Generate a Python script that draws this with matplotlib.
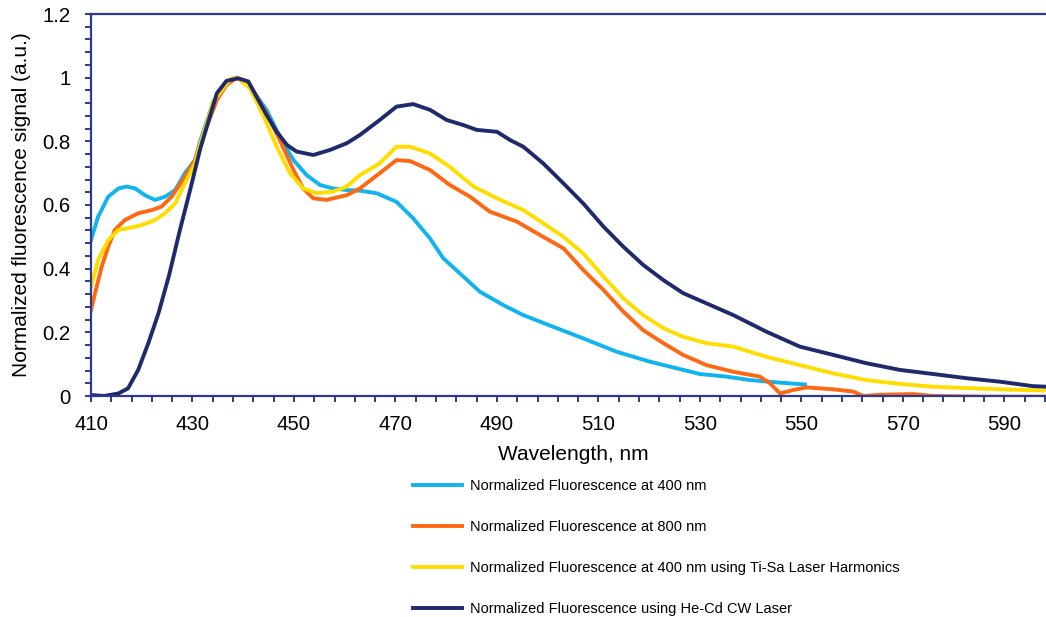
import matplotlib
matplotlib.use("Agg")
import matplotlib.pyplot as plt
from matplotlib.ticker import MultipleLocator, FixedLocator

plt.rcParams['font.family'] = ['Liberation Sans', 'DejaVu Sans']

# ---- data ----
wl_400 = [410, 411.4, 413.4, 415.4, 417.0, 418.7, 420.6, 422.6, 424.6, 426.6, 428.5, 430.5,
          431.5, 434.1, 436.7, 438.7, 441.3, 444.6, 447.2, 449.9, 452.5, 455.1, 457.7, 460.4,
          463.0, 466.3, 470.2, 473.5, 476.8, 479.4, 483.4, 486.6, 491.2, 495.2, 501.8, 507.0,
          513.6, 520.1, 526.7, 530.0, 535.2, 539.9, 545.0, 550.7]
f_400 = [0.49, 0.563, 0.626, 0.652, 0.658, 0.652, 0.631, 0.616, 0.626, 0.647, 0.70, 0.741,
         0.80, 0.925, 0.985, 1.0, 0.972, 0.899, 0.815, 0.741, 0.694, 0.663, 0.652, 0.647,
         0.645, 0.637, 0.61, 0.558, 0.495, 0.433, 0.375, 0.328, 0.286, 0.254, 0.213, 0.181,
         0.139, 0.108, 0.082, 0.069, 0.061, 0.05, 0.043, 0.036]

wl_800 = [410, 410.8, 412.1, 413.4, 414.7, 416.7, 419.3, 422.0, 423.9, 425.9, 428.5, 430.5,
          431.5, 434.8, 436.7, 438.7, 441.3, 444.6, 447.2, 449.9, 451.8, 453.8, 456.4, 460.4,
          463.0, 466.9, 470.2, 472.9, 476.8, 480.7, 484.7, 488.6, 493.9, 499.1, 503.1, 507.0,
          511.0, 514.9, 518.8, 522.8, 526.7, 531.3, 536.6, 541.8, 543.8, 545.8, 548.4, 551.0,
          556.3, 560.2, 562.2, 565.8, 572.0, 576.0, 585.0, 598.5]
f_800 = [0.27, 0.323, 0.406, 0.469, 0.522, 0.553, 0.574, 0.584, 0.595, 0.626, 0.689, 0.741,
         0.79, 0.93, 0.977, 1.0, 0.977, 0.888, 0.804, 0.71, 0.652, 0.621, 0.616, 0.631,
         0.652, 0.70, 0.741, 0.738, 0.71, 0.663, 0.626, 0.579, 0.548, 0.50, 0.464, 0.396,
         0.333, 0.265, 0.207, 0.166, 0.129, 0.097, 0.076, 0.061, 0.04, 0.008, 0.019, 0.027,
         0.021, 0.014, 0.0, 0.004, 0.006, 0.0, -0.002, -0.002]

wl_tisa = [410, 411.4, 413.4, 415.4, 417.3, 420.0, 422.6, 424.6, 426.6, 428.5, 430.5, 431.5,
           434.1, 436.7, 437.7, 439.0, 441.3, 443.9, 446.6, 449.2, 451.8, 454.5, 457.7, 460.4,
           463.0, 466.9, 470.2, 472.9, 476.8, 480.7, 485.4, 490.0, 495.2, 499.1, 503.1, 507.0,
           511.0, 514.9, 518.8, 522.8, 526.7, 531.3, 536.6, 543.1, 549.7, 556.3, 562.8, 569.4,
           576.0, 582.5, 589.1, 598.5]
f_tisa = [0.343, 0.427, 0.49, 0.522, 0.527, 0.537, 0.553, 0.574, 0.605, 0.668, 0.731, 0.79,
          0.925, 0.98, 0.998, 0.998, 0.967, 0.883, 0.783, 0.70, 0.652, 0.637, 0.642, 0.658,
          0.694, 0.731, 0.783, 0.783, 0.762, 0.72, 0.658, 0.621, 0.584, 0.543, 0.50, 0.448,
          0.375, 0.307, 0.254, 0.213, 0.186, 0.166, 0.155, 0.123, 0.097, 0.071, 0.05, 0.038,
          0.029, 0.025, 0.021, 0.017]

wl_hecd = [410, 412.6, 415.4, 417.3, 419.3, 421.3, 423.3, 425.4, 427.5, 429.5, 431.5, 432.8,
           434.8, 436.7, 439.0, 441.0, 442.6, 444.6, 446.6, 448.6, 450.5, 453.8, 457.1, 460.4,
           463.0, 466.9, 470.2, 473.5, 476.8, 480.1, 483.4, 486.0, 490.0, 492.6, 495.2, 499.1,
           503.1, 507.0, 511.0, 514.9, 518.8, 522.8, 526.7, 531.3, 536.6, 543.1, 549.7, 556.3,
           562.8, 569.4, 576.0, 582.5, 589.1, 595.6, 598.5]
f_hecd = [0.003, 0.0, 0.008, 0.024, 0.082, 0.166, 0.26, 0.38, 0.52, 0.645, 0.775, 0.845,
          0.951, 0.99, 0.998, 0.988, 0.941, 0.883, 0.83, 0.789, 0.768, 0.757, 0.773, 0.794,
          0.82, 0.867, 0.909, 0.917, 0.899, 0.867, 0.851, 0.836, 0.83, 0.804, 0.783, 0.731,
          0.668, 0.605, 0.532, 0.469, 0.412, 0.364, 0.323, 0.291, 0.254, 0.202, 0.155, 0.129,
          0.103, 0.082, 0.069, 0.056, 0.045, 0.031, 0.029]

labels = ["Normalized Fluorescence at 400 nm",
          "Normalized Fluorescence at 800 nm",
          "Normalized Fluorescence at 400 nm using Ti-Sa Laser Harmonics",
          "Normalized Fluorescence using He-Cd CW Laser"]
colors = ["#11B4EE", "#FF6813", "#FFDD00", "#1E2A6C"]

x_major = [410, 430, 450, 470, 490, 510, 530, 550, 570, 590]
y_major = [0, 0.2, 0.4, 0.6, 0.8, 1.0, 1.2]
y_labels = ["0", "0.2", "0.4", "0.6", "0.8", "1", "1.2"]

# ---- figure ----
W, H = 1046, 617
fig = plt.figure(figsize=(W / 100, H / 100), dpi=100)
L, R, T, B = 91, 1046, 14, 396
ax = fig.add_axes([L / W, 1 - B / H, (R - L) / W, (B - T) / H])

series = [(wl_400, f_400), (wl_800, f_800), (wl_tisa, f_tisa), (wl_hecd, f_hecd)]
handles = []
for (xs, ys), c, lab in zip(series, colors, labels):
    h, = ax.plot(xs, ys, color=c, lw=2.8, label=lab, solid_joinstyle='round')
    handles.append(h)

ax.set_xlim(410, 598.2)
ax.set_ylim(0, 1.2)

axcol = "#2E3A8F"
for s in ['left', 'bottom', 'top']:
    ax.spines[s].set_color(axcol)
    ax.spines[s].set_linewidth(1.6)
ax.spines['right'].set_visible(False)

ax.xaxis.set_major_locator(FixedLocator(x_major))
ax.xaxis.set_minor_locator(FixedLocator(list(range(410, 599, 4))))
ax.set_xticklabels([str(v) for v in x_major])
ax.yaxis.set_major_locator(FixedLocator(y_major))
ax.yaxis.set_minor_locator(MultipleLocator(0.04))
ax.set_yticklabels(y_labels)

ax.tick_params(axis='both', which='both', direction='out', length=4.5, width=1.4,
               color=axcol, top=False, right=False)
ax.tick_params(axis='both', which='major', labelsize=14.7, labelcolor='black')
ax.tick_params(axis='y', which='major', pad=10)
ax.tick_params(axis='x', which='major', pad=9)

ax.set_xlabel("Wavelength, nm", fontsize=15, va='center')
ax.xaxis.set_label_coords((573 - L) / (R - L), (B - 454) / (B - T))
ax.set_ylabel("Normalized fluorescence signal (a.u.)", fontsize=15, va='center')
ax.yaxis.set_label_coords((22 - L) / (R - L), 0.5)

fig.legend(handles, labels, loc='upper left',
           bbox_to_anchor=(413 / W, 1 - 479 / H), bbox_transform=fig.transFigure,
           frameon=False, fontsize=10.5, handlelength=3.35, handletextpad=0.55,
           labelspacing=1.85, borderpad=0, borderaxespad=0)

fig.savefig("out.png", dpi=100)
